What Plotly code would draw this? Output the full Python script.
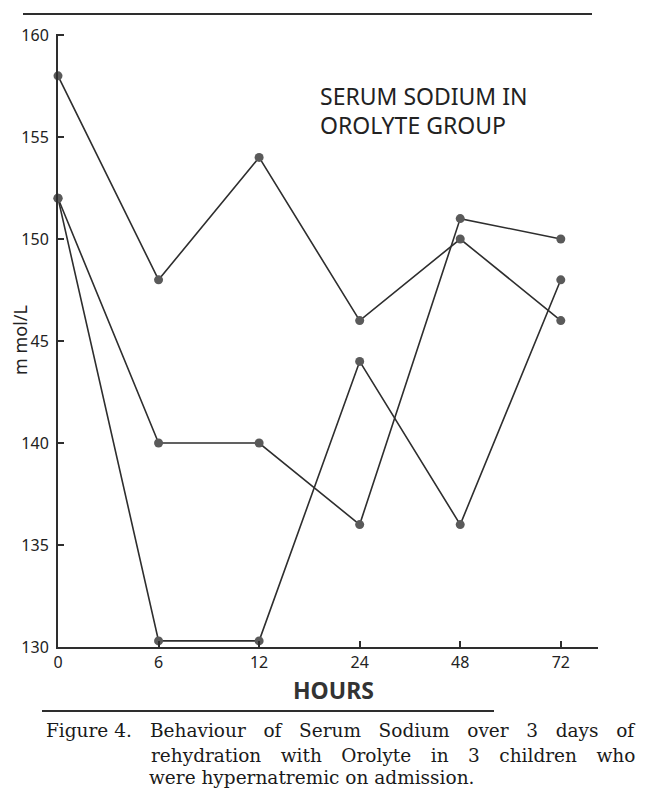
import plotly.graph_objects as go

# hours after admission (equally spaced categories on the drawn axis)
hours = ["0", "6", "12", "24", "48", "72"]

# serum sodium, mmol/L
child_a = [158, 148, 154, 146, 150, 146]
child_b = [152, 140, 140, 136, 151, 150]
child_c = [152, 130.3, 130.3, 144, 136, 148]

ytick_vals = [130, 135, 140, 145, 150, 155, 160]
ytick_text = ["130", "135", "140", "45", "150", "155", "160"]

# page has an 8px body margin, so the figure is sized to fit inside it
OFF = 8
W, H = 650 - 2 * OFF, 797 - 2 * OFF
ML, MT = 58 - OFF, 34 - OFF
PW, PH = 540, 613
MR, MB = W - ML - PW, H - MT - PH


def px(x):
    # page pixel -> paper x
    return (x - OFF - ML) / PW


def py(y):
    # page pixel -> paper y
    return 1 - (y - OFF - MT) / PH


ink = "#2e2e2e"
dot = "#5a5a5a"
hand = "Noto Sans"
NB = "\u00a0"

fig = go.Figure()
for vals in [child_a, child_b, child_c]:
    fig.add_trace(go.Scatter(
        x=hours, y=vals, mode="lines+markers",
        line=dict(color=ink, width=1.6),
        marker=dict(size=9, color=dot, line=dict(width=0)),
        cliponaxis=False, showlegend=False, hoverinfo="x+y",
    ))

fig.update_layout(
    width=W, height=H,
    margin=dict(l=ML, r=MR, t=MT, b=MB),
    paper_bgcolor="white", plot_bgcolor="white",
    xaxis=dict(
        type="category", range=[0, 5.37],
        showgrid=False, zeroline=False,
        showline=True, linecolor=ink, linewidth=2,
        ticks="inside", ticklen=6, tickcolor=ink, tickwidth=1.5,
        tickfont=dict(family=hand, size=16, color="#222"),
    ),
    yaxis=dict(
        range=[130, 160.05], tickvals=ytick_vals, ticktext=ytick_text,
        showgrid=False, zeroline=False,
        showline=True, linecolor=ink, linewidth=2,
        ticks="inside", ticklen=6, tickcolor=ink, tickwidth=1.5,
        tickfont=dict(family=hand, size=16, color="#222"),
        ticklabelstandoff=4,
    ),
    shapes=[
        dict(type="line", xref="paper", yref="paper",
             x0=px(23), x1=px(592), y0=py(14), y1=py(14),
             line=dict(color=ink, width=2)),
        dict(type="line", xref="paper", yref="paper",
             x0=px(42), x1=px(494), y0=py(711), y1=py(711),
             line=dict(color=ink, width=2)),
    ],
)

ann = []
# handwritten title in the plot
ann.append(dict(x=px(318), y=py(96), xref="paper", yref="paper",
                xanchor="left", yanchor="middle", showarrow=False,
                text="SERUM SODIUM IN",
                font=dict(family=hand, size=23, color="#222")))
ann.append(dict(x=px(318), y=py(125), xref="paper", yref="paper",
                xanchor="left", yanchor="middle", showarrow=False,
                text="OROLYTE GROUP",
                font=dict(family=hand, size=23, color="#222")))
# y axis label
ann.append(dict(x=px(20), y=py(340), xref="paper", yref="paper",
                xanchor="center", yanchor="middle", showarrow=False,
                text="m mol/L", textangle=-90,
                font=dict(family=hand, size=18, color="#222")))
# x axis title
ann.append(dict(x=px(333), y=py(690), xref="paper", yref="paper",
                xanchor="center", yanchor="middle", showarrow=False,
                text="<b>HOURS</b>",
                font=dict(family=hand, size=23, color="#333")))
# caption (first two lines justified by widened gaps)
cap = dict(family="DejaVu Serif", size=18.5, color="#1a1a1a")
gap1 = NB + NB + " "
gap2 = NB + NB + "\u200a" + " "
ann.append(dict(x=px(44), y=py(731), xref="paper", yref="paper",
                xanchor="left", yanchor="middle", showarrow=False,
                text="Figure 4.", font=cap))
ann.append(dict(x=px(637), y=py(731), xref="paper", yref="paper",
                xanchor="right", yanchor="middle", showarrow=False,
                text=gap1.join("Behaviour of Serum Sodium over 3 days of".split()),
                font=cap))
ann.append(dict(x=px(637), y=py(755), xref="paper", yref="paper",
                xanchor="right", yanchor="middle", showarrow=False,
                text=gap2.join("rehydration with Orolyte in 3 children who".split()),
                font=cap))
ann.append(dict(x=px(147), y=py(777), xref="paper", yref="paper",
                xanchor="left", yanchor="middle", showarrow=False,
                text="were hypernatremic on admission.",
                font=cap))
fig.update_layout(annotations=ann)

fig.write_html("out.html")
